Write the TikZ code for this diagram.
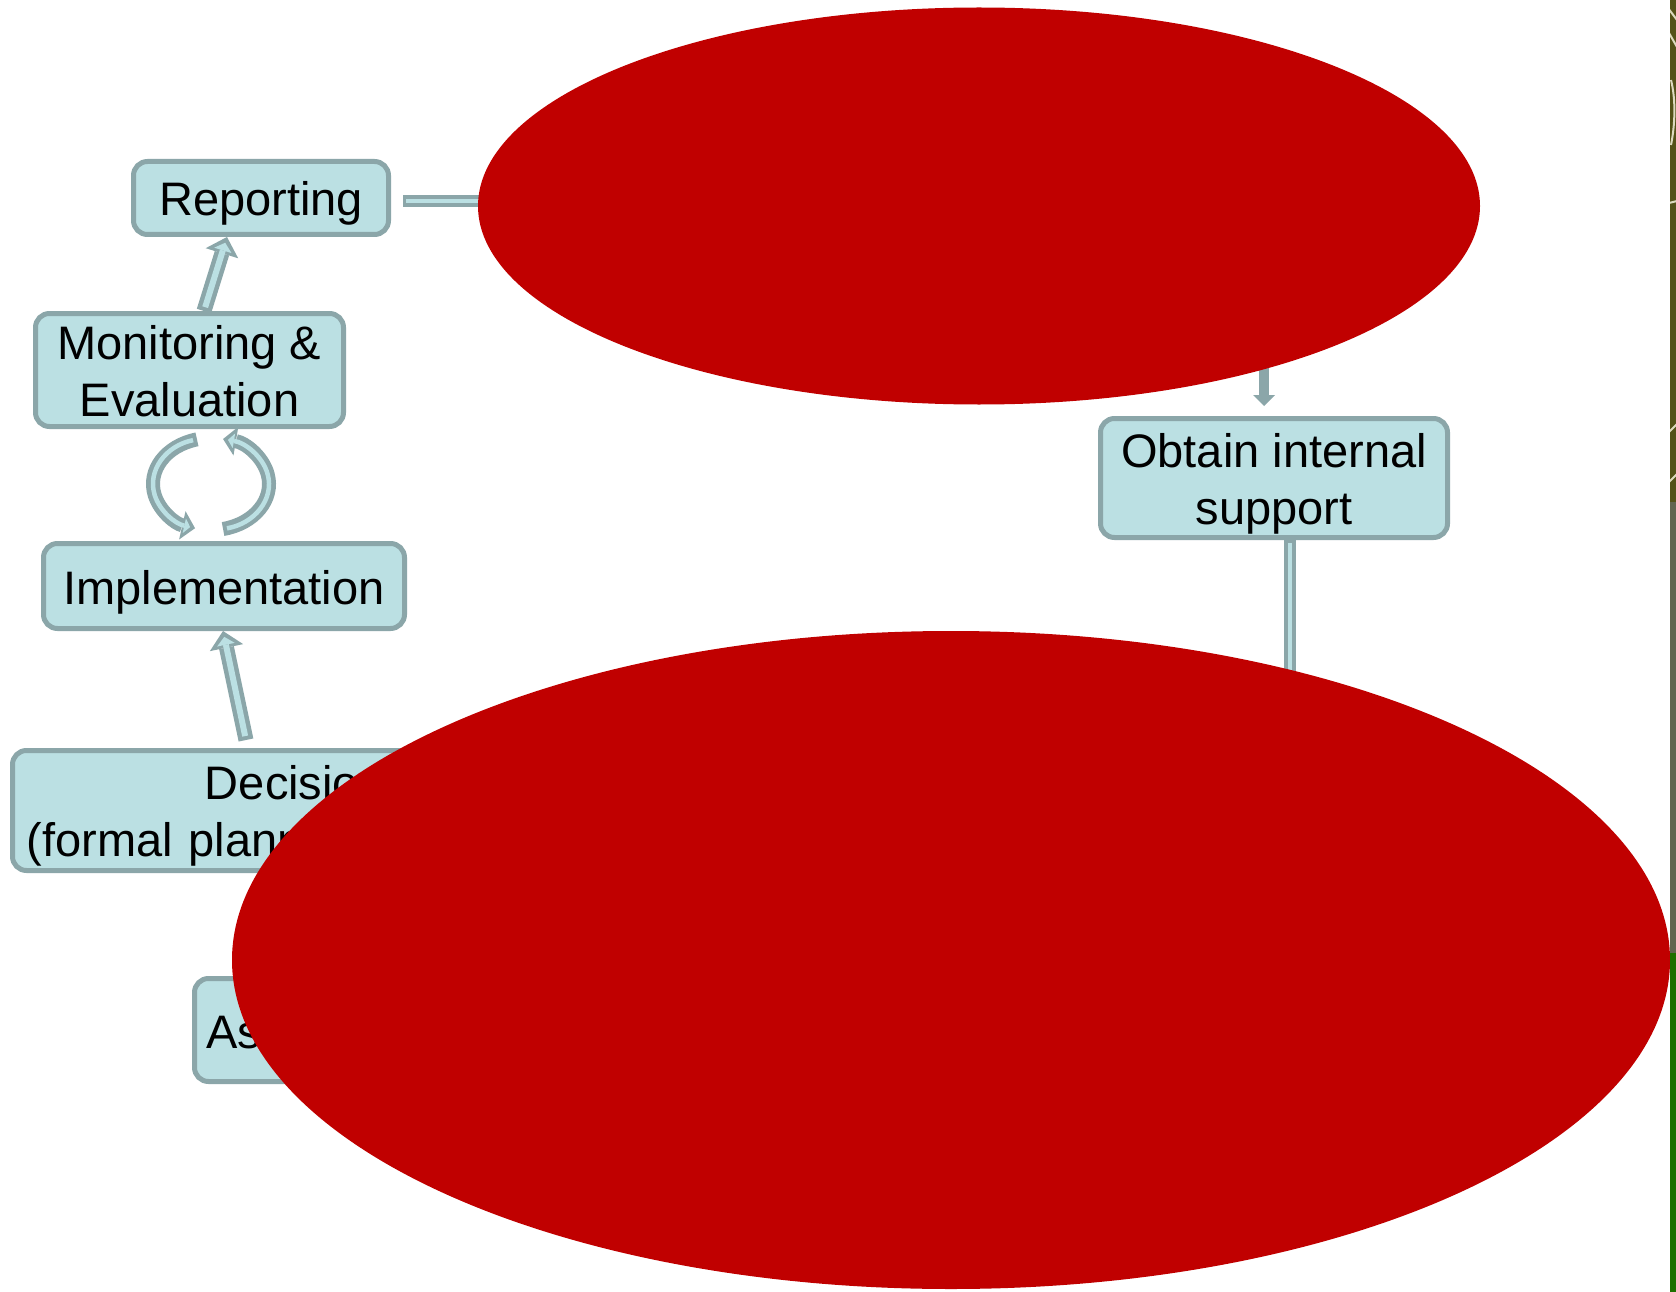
\documentclass[tikz,border=0pt]{standalone}
\usepackage{fontspec}
\setmainfont{Liberation Sans}
\usetikzlibrary{shapes.geometric,arrows.meta,backgrounds}

\definecolor{boxfill}{HTML}{BBE0E3}
\definecolor{boxedge}{HTML}{8BA6A9}
\definecolor{blot}{HTML}{C00000}
\definecolor{stripolive}{HTML}{545218}
\definecolor{stripgrey}{HTML}{626550}
\definecolor{stripgreen}{HTML}{1F7000}
\definecolor{streak}{HTML}{DCDABE}

\begin{document}
\begin{tikzpicture}[x=1pt,y=-1pt,
  stage/.style={draw=boxedge, fill=boxfill, line width=5pt, rounded corners=14pt,
    inner sep=0pt, font=\fontsize{47}{57.5}\selectfont, text height=36pt, text depth=0pt},
  % centred two-line labels are referenced on their last baseline
  twoline/.style={align=center, text height=93pt, text depth=0pt},
  bigarrow/.style={draw=boxedge, line width=15pt,
    -{Triangle[length=17pt,width=34pt,line width=0pt]},
    postaction={draw=boxfill, line width=6pt, shorten <=4pt, shorten >=6pt,
      -{Triangle[length=8pt,width=18pt,line width=0pt]}}},
  ringarrow/.style={draw=boxedge, line width=14pt,
    -{Triangle[length=13pt,width=29pt,line width=0pt]},
    postaction={draw=boxfill, line width=4.5pt, shorten <=4pt, shorten >=5pt,
      -{Triangle[length=6pt,width=15pt,line width=0pt]}}},
  hollowline/.style={draw=boxedge, line width=12pt,
    postaction={draw=boxfill, line width=4pt, shorten <=3pt}},
  solidarrow/.style={draw=boxedge, line width=10pt,
    -{Triangle[length=11pt,width=22pt,line width=0pt]}},
  blotshape/.style={ellipse, fill=blot, inner sep=0pt},
  streakline/.style={draw=streak, line width=2pt}
]
\useasboundingbox (0,0) rectangle (1676,1292);

% process stages
\node[stage, minimum width=255pt, minimum height=73pt] (rep) at (261,198) {Reporting};
\node[stage, twoline, minimum width=308pt, minimum height=113pt] (mon) at (189.5,370) {Monitoring \&\\Evaluation};
\node[stage, minimum width=361pt, minimum height=85pt] (impl) at (224,586) {Implementation};
\node[stage, align=left, text width=596pt, text depth=59pt, minimum width=625pt, minimum height=120pt] (dec) at (325,810.5) {\hspace*{178pt}Decision\\(formal planning)};
\node[stage, align=left, text width=300pt, minimum width=323pt, minimum height=103pt] (ass) at (356,1030) {Assessment};
\node[stage, twoline, minimum width=347pt, minimum height=119pt] (obt) at (1274,478) {Obtain internal\\support};

% solid red ovals laid over the chart
\node[blotshape, minimum width=1002pt, minimum height=397pt] (blotA) at (979,206) {};
\node[blotshape, minimum width=1438pt, minimum height=658pt] (blotB) at (951,960) {};

% helper points for the connectors
\coordinate (cyc) at (211,484);
\coordinate (repin) at ([xshift=80pt,yshift=5pt]blotA.west);
\coordinate (obtin) at (1264,330);
\coordinate (obtout) at (1289.5,720);

% connectors sit behind the boxes and ovals
\begin{scope}[on background layer]
  \fill[white] (0,0) rectangle (1676,1292);
  \draw[bigarrow] ([xshift=14.5pt]mon.north) -- ([xshift=-34pt]rep.south);
  \draw[bigarrow] ([xshift=-79pt,yshift=8pt]dec.north) -- ([xshift=-1pt]impl.south);
  \draw[ringarrow] ([shift={(-104:58 and 46)}]cyc) arc[start angle=-104, end angle=-254, x radius=58, y radius=46];
  \draw[ringarrow] ([shift={(78:58 and 46)}]cyc) arc[start angle=78, end angle=-78, x radius=58, y radius=46];
  \draw[hollowline] ([xshift=12pt,yshift=-3pt]rep.east) -- (repin);
  \draw[solidarrow] (obtin) -- ([xshift=-10pt,yshift=10pt]obt.north);
  \draw[hollowline] ([xshift=15.5pt]obt.south) -- (obtout);
\end{scope}

% coloured strip along the right edge
\fill[stripolive] (1670,0) rectangle (1676,502);
\fill[stripgrey] (1670,502) rectangle (1676,953);
\fill[stripgreen] (1670,953) rectangle (1676,1292);
\begin{scope}
  \clip (1670,0) rectangle (1676,502);
  \draw[streakline] (1668,8) -- (1677,20);
  \draw[streakline] (1669,33) -- (1677,47);
  \draw[streakline] (1671,80) .. controls (1676,100) and (1675,125) .. (1671,145);
  \draw[streakline] (1669,203) -- (1677,201);
  \draw[streakline] (1669,432) -- (1677,424);
  \draw[streakline] (1669,482) -- (1677,474);
\end{scope}
\end{tikzpicture}
\end{document}
